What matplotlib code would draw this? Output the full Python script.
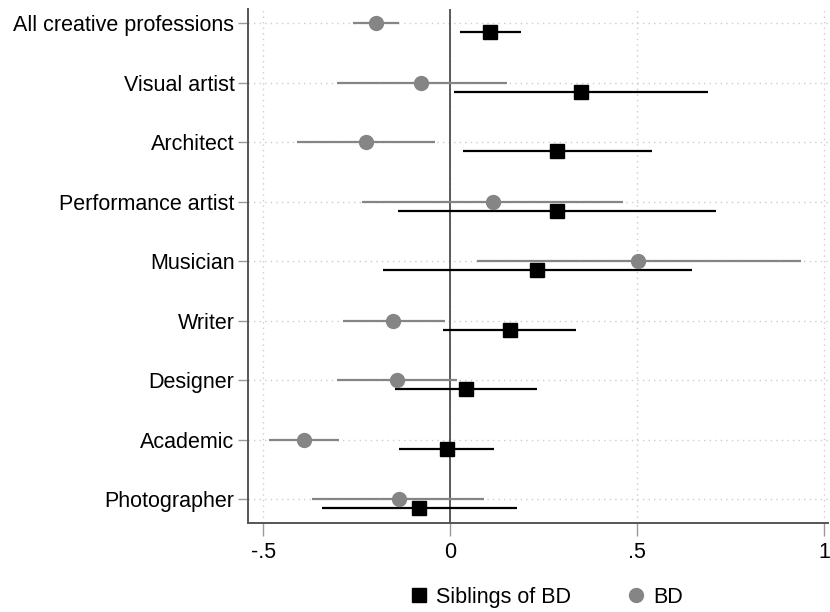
import matplotlib
matplotlib.use("Agg")
import matplotlib.pyplot as plt
from matplotlib.lines import Line2D
import numpy as np

plt.rcParams["font.family"] = ["Liberation Sans", "DejaVu Sans"]

categories = [
    "All creative professions", "Visual artist", "Architect",
    "Performance artist", "Musician", "Writer", "Designer",
    "Academic", "Photographer",
]

# BD (grey circles)
bd_est = [-0.199, -0.077, -0.226, 0.114, 0.503, -0.152, -0.143, -0.390, -0.138]
bd_lo = [-0.261, -0.304, -0.409, -0.236, 0.072, -0.288, -0.304, -0.484, -0.370]
bd_hi = [-0.137, 0.152, -0.042, 0.463, 0.937, -0.014, 0.019, -0.297, 0.089]

# Siblings of BD (black squares)
sib_est = [0.107, 0.350, 0.285, 0.285, 0.233, 0.160, 0.041, -0.010, -0.083]
sib_lo = [0.026, 0.011, 0.033, -0.140, -0.180, -0.019, -0.148, -0.138, -0.343]
sib_hi = [0.188, 0.690, 0.539, 0.711, 0.646, 0.337, 0.231, 0.118, 0.179]

x_ticks = [-0.5, 0, 0.5, 1]
x_tick_labels = ["-.5", "0", ".5", "1"]

GREY = "#858585"
SPINE = "#555555"
GRID = "#cccccc"

fig = plt.figure(figsize=(8.3, 6.12), dpi=100)
ax = fig.add_axes([0.2992, 0.1459, 0.6984, 0.8394])

rows = np.arange(len(categories))
sib_rows = rows + 0.15

ax.axvline(0, color="#5a5a5a", lw=1.4, zorder=2)

ax.hlines(rows, bd_lo, bd_hi, color=GREY, lw=1.6, zorder=3)
ax.plot(bd_est, rows, "o", color=GREY, ms=10, mec=GREY, zorder=4)

ax.hlines(sib_rows, sib_lo, sib_hi, color="black", lw=1.6, zorder=3)
ax.plot(sib_est, sib_rows, "s", color="black", ms=9.5, zorder=4)

ax.set_xlim(-0.540, 1.01)
ax.set_ylim(8.39, -0.24)
ax.set_yticks(rows)
ax.set_yticklabels(categories)
ax.set_xticks(x_ticks)
ax.set_xticklabels(x_tick_labels)

ax.grid(True, color=GRID, ls=(0, (1, 3)), lw=1.0, zorder=1)

for side in ["top", "right"]:
    ax.spines[side].set_visible(False)
for side in ["left", "bottom"]:
    ax.spines[side].set_color(SPINE)
    ax.spines[side].set_linewidth(1.4)

ax.tick_params(axis="both", colors="#999999", labelcolor="black",
               labelsize=15.5, length=7, width=1.0)
ax.tick_params(axis="y", pad=3)
ax.tick_params(axis="x", length=9, pad=5)

handles = [
    Line2D([], [], marker="s", ls="none", color="black", ms=9.5),
    Line2D([], [], marker="o", ls="none", color=GREY, ms=10),
]
fig.legend(handles, ["Siblings of BD", "BD"], loc="center",
           bbox_to_anchor=(0.657, 0.0245), ncol=2, frameon=False,
           fontsize=15.5, handletextpad=0.3, columnspacing=2.5,
           handlelength=1.0)

fig.savefig("out.png", dpi=100)
